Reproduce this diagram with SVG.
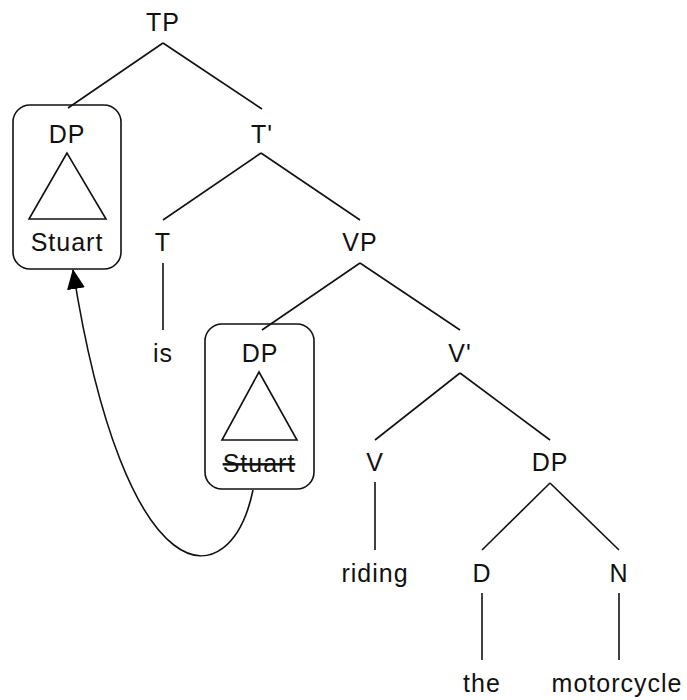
<svg xmlns="http://www.w3.org/2000/svg" width="687" height="700" viewBox="0 0 687 700">
  <style>
    text { font-family: "Liberation Sans", Arial, sans-serif; font-size: 25px; fill: #111; text-anchor: middle; letter-spacing: 1px; }
    .edge { stroke: #111; stroke-width: 1.6; fill: none; }
    .box { stroke: #111; stroke-width: 1.6; fill: none; }
    .tri { stroke: #111; stroke-width: 1.6; fill: none; }
    .strike { text-decoration: line-through; }
  </style>
  <defs>
    <marker id="arrowhead" viewBox="0 0 20 18" refX="19" refY="9" markerWidth="20" markerHeight="18" markerUnits="userSpaceOnUse" orient="auto">
      <path d="M0,0 L20,9 L0,18 Z" fill="#000"/>
    </marker>
  </defs>
  <rect width="687" height="700" fill="#fff"/>

  <!-- tree branches -->
  <g id="connectors">
    <line class="edge" x1="163" y1="43" x2="68" y2="108"/>
    <line class="edge" x1="163" y1="43" x2="262" y2="109"/>
    <line class="edge" x1="261" y1="153" x2="163" y2="220"/>
    <line class="edge" x1="261" y1="153" x2="360" y2="220"/>
    <line class="edge" x1="163" y1="263" x2="163" y2="330"/>
    <line class="edge" x1="360" y1="263" x2="262" y2="330"/>
    <line class="edge" x1="360" y1="263" x2="460" y2="330"/>
    <line class="edge" x1="460" y1="373" x2="375" y2="440"/>
    <line class="edge" x1="460" y1="373" x2="550" y2="440"/>
    <line class="edge" x1="375" y1="482" x2="375" y2="550"/>
    <line class="edge" x1="550" y1="483" x2="482" y2="550"/>
    <line class="edge" x1="550" y1="483" x2="619" y2="550"/>
    <line class="edge" x1="482" y1="593" x2="482" y2="660"/>
    <line class="edge" x1="619" y1="593" x2="619" y2="660"/>
    <!-- movement arrow from the trace up to the moved DP -->
    <path class="edge" d="M253,490 C230,600 125,600 73,270" marker-end="url(#arrowhead)"/>
  </g>

  <g id="TP"><text x="163" y="31">TP</text></g>

  <g id="DP-subject">
    <rect class="box" x="13" y="105" width="108" height="164" rx="17" ry="17"/>
    <text x="67" y="143">DP</text>
    <polygon class="tri" points="67,153 29,219 106,219"/>
    <text x="67" y="251">Stuart</text>
  </g>

  <g id="T-bar"><text x="262" y="143">T'</text></g>
  <g id="T"><text x="163" y="251">T</text></g>
  <g id="is"><text x="163" y="362">is</text></g>
  <g id="VP"><text x="360" y="251">VP</text></g>

  <g id="DP-trace">
    <rect class="box" x="205" y="324" width="109" height="165" rx="17" ry="17"/>
    <text x="260" y="362">DP</text>
    <polygon class="tri" points="259,372 222,440 297,440"/>
    <text class="strike" x="259" y="472">Stuart</text>
  </g>

  <g id="V-bar"><text x="460" y="362">V'</text></g>
  <g id="V"><text x="375" y="471">V</text></g>
  <g id="riding"><text x="375" y="582">riding</text></g>
  <g id="DP-object"><text x="550" y="471">DP</text></g>
  <g id="D"><text x="482" y="582">D</text></g>
  <g id="N"><text x="619" y="582">N</text></g>
  <g id="the"><text x="482" y="692">the</text></g>
  <g id="motorcycle"><text x="617" y="692">motorcycle</text></g>
</svg>
